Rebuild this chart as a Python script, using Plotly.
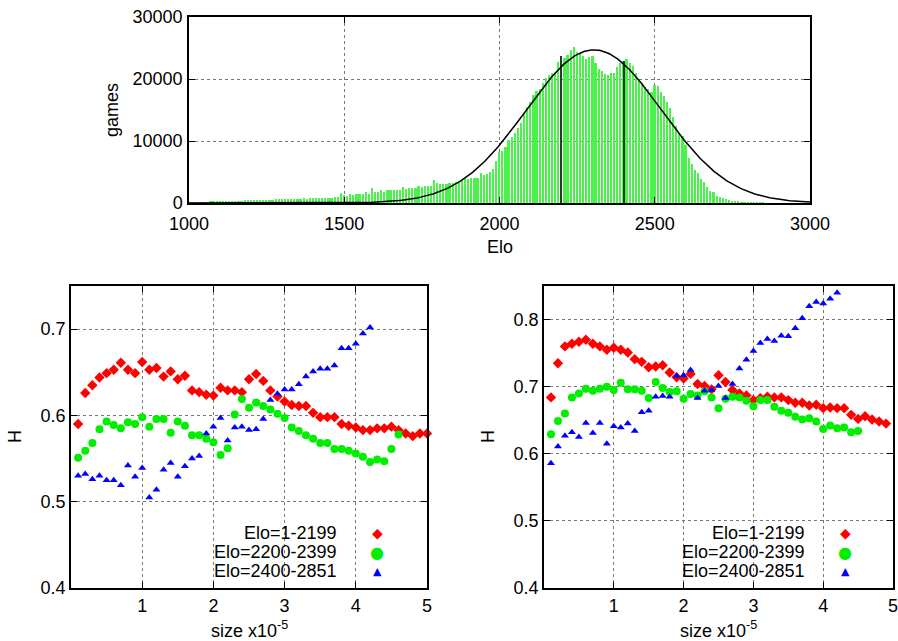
import numpy as np
import plotly.graph_objects as go

# ---------------- data ----------------
# histogram of games per Elo bin (bin width 10, starting at 1000)
elo_first_bin = 1000
elo_bin_width = 10
games = [
    100, 110, 130, 120, 140, 140, 160, 170, 200, 210,
    230, 260, 270, 280, 290, 280, 320, 330, 560, 430,
    480, 540, 490, 530, 500, 540, 490, 500, 650, 570,
    600, 610, 700, 600, 720, 700, 710, 860, 700, 870,
    800, 860, 880, 870, 880, 870, 880, 920, 970, 1610,
    1290, 1130, 1500, 1240, 1450, 1450, 1450, 1720, 1450, 2470,
    1770, 1770, 2100, 1830, 2150, 2150, 2150, 2150, 2150, 2580,
    2310, 2420, 2420, 2470, 2690, 2580, 2740, 2690, 2740, 3650,
    3170, 3010, 3120, 3120, 3230, 3230, 3390, 3550, 3710, 3980,
    3870, 4090, 4090, 4090, 4840, 4570, 4730, 5050, 5480, 6770,
    8200, 8390, 9090, 10160, 10700, 11340, 12040, 12850, 14350, 15540,
    16240, 17420, 18120, 18330, 19400, 20100, 20640, 20910, 21180, 22790,
    23760, 23330, 23870, 24680, 25100, 24410,
    24250, 23710, 23220, 23490, 23760, 22530, 21560, 21340, 20810, 20700,
    20910, 21020, 21880, 22630, 22900, 23170, 22630, 22100, 20900, 19840,
    19300, 18760, 18330, 17960,
    19000, 18900, 17900, 17200, 16300, 15300, 13900, 12500, 11300, 10800,
    9300, 7200, 6300, 5300, 4800, 3800, 3400, 2600, 1900, 1700,
    1150, 950, 750, 600, 480, 330, 270, 220, 160, 120,
    90, 70, 50, 40, 30, 20,
]
group_bounds = [2200, 2400]          # Elo group boundaries (dark impulses)
fit_mu, fit_sigma, fit_amp = 2304, 218, 24700   # fitted normal curve

# H vs size (size in units of 1e5), step 0.1
size_step = 0.1
left_red = [0.590, 0.626, 0.635, 0.644, 0.649, 0.653, 0.661, 0.653, 0.649, 0.662,
            0.653, 0.655, 0.645, 0.651, 0.642, 0.646, 0.629, 0.627, 0.624, 0.623,
            0.632, 0.629, 0.629, 0.627, 0.642, 0.648, 0.640, 0.629, 0.622, 0.616,
            0.612, 0.611, 0.611, 0.603, 0.598, 0.598, 0.598, 0.590, 0.588, 0.586,
            0.583, 0.583, 0.585, 0.585, 0.587, 0.583, 0.579, 0.576, 0.579, 0.579]
left_green = [0.551, 0.559, 0.568, 0.584, 0.593, 0.589, 0.585, 0.592, 0.590, 0.598,
              0.587, 0.596, 0.596, 0.580, 0.593, 0.588, 0.577, 0.577, 0.573, 0.569,
              0.554, 0.562, 0.601, 0.619, 0.609, 0.615, 0.611, 0.607, 0.602, 0.597,
              0.586, 0.582, 0.577, 0.573, 0.568, 0.568, 0.561, 0.561, 0.559, 0.556,
              0.552, 0.546, 0.549, 0.547, 0.561, 0.578]
left_blue = [0.530, 0.532, 0.526, 0.530, 0.525, 0.525, 0.519, 0.542, 0.529, 0.539,
             0.505, 0.514, 0.537, 0.545, 0.529, 0.541, 0.550, 0.553, 0.579, 0.587,
             0.597, 0.571, 0.586, 0.587, 0.583, 0.584, 0.596, 0.618, 0.625, 0.630,
             0.630, 0.636, 0.645, 0.651, 0.654, 0.654, 0.658, 0.678, 0.678, 0.683,
             0.695, 0.702]
right_red = [0.684, 0.735, 0.760, 0.764, 0.767, 0.770, 0.764, 0.760, 0.755, 0.758,
             0.755, 0.751, 0.741, 0.737, 0.729, 0.730, 0.732, 0.721, 0.714, 0.712,
             0.719, 0.704, 0.701, 0.696, 0.717, 0.707, 0.695, 0.690, 0.687, 0.680,
             0.683, 0.685, 0.684, 0.684, 0.680, 0.676, 0.676, 0.672, 0.673, 0.668,
             0.669, 0.668, 0.668, 0.658, 0.652, 0.656, 0.651, 0.648, 0.645]
right_green = [0.629, 0.649, 0.660, 0.684, 0.690, 0.697, 0.694, 0.697, 0.700, 0.695,
               0.706, 0.696, 0.696, 0.694, 0.683, 0.707, 0.698, 0.692, 0.693, 0.682,
               0.689, 0.687, 0.693, 0.684, 0.668, 0.682, 0.685, 0.684, 0.679, 0.671,
               0.680, 0.680, 0.670, 0.664, 0.661, 0.655, 0.651, 0.653, 0.648, 0.637,
               0.642, 0.638, 0.639, 0.632, 0.634]
right_blue = [0.586, 0.611, 0.627, 0.632, 0.625, 0.646, 0.631, 0.646, 0.615, 0.641,
              0.639, 0.645, 0.634, 0.662, 0.664, 0.685, 0.686, 0.685, 0.716, 0.717,
              0.725, 0.683, 0.694, 0.695, 0.701, 0.683, 0.704, 0.727, 0.740, 0.753,
              0.765, 0.771, 0.768, 0.776, 0.775, 0.787, 0.802, 0.820, 0.826, 0.824,
              0.831, 0.840]
legend_labels = ["Elo=1-2199", "Elo=2200-2399", "Elo=2400-2851"]
top_xticks = [1000, 1500, 2000, 2500, 3000]
top_yticks = [0, 10000, 20000, 30000]
bottom_xticks = [1, 2, 3, 4, 5]
left_yticks = [0.4, 0.5, 0.6, 0.7]
right_yticks = [0.4, 0.5, 0.6, 0.7, 0.8]

# ---------------- build ----------------
W, H = 898, 641
FONT = "Liberation Sans, Arial, Helvetica, sans-serif"
FS = 18

def fx(p):
    return p / W

def fy(p):
    return 1 - p / H

elo_bins = [elo_first_bin + elo_bin_width * i for i in range(len(games))]
bound_heights = [games[elo_bins.index(b)] for b in group_bounds]
curve_x = np.linspace(1000, 3000, 401)
curve_y = fit_amp * np.exp(-((curve_x - fit_mu) ** 2) / (2 * fit_sigma ** 2))

def sizes(n):
    return [round(size_step * (i + 1), 1) for i in range(n)]

RED, GREEN, BLUE = "#ff0000", "#00ee00", "#0000ff"

fig = go.Figure()
fig.add_trace(go.Bar(x=elo_bins, y=games, width=5.5, marker=dict(color="#4cf24c", line=dict(width=0)),
                     xaxis="x", yaxis="y"))
fig.add_trace(go.Bar(x=group_bounds, y=bound_heights, width=4, marker=dict(color="#2a3a2a", line=dict(width=0)),
                     xaxis="x", yaxis="y"))
fig.add_trace(go.Scatter(x=curve_x, y=curve_y, mode="lines", line=dict(color="black", width=1.5),
                         xaxis="x", yaxis="y"))

def add_scatter(vals, color, symbol, size, xa, ya):
    fig.add_trace(go.Scatter(x=sizes(len(vals)), y=vals, mode="markers",
                             marker=dict(color=color, symbol=symbol, size=size, line=dict(width=0)),
                             xaxis=xa, yaxis=ya, cliponaxis=False))

add_scatter(left_red, RED, "diamond", 8, "x2", "y2")
add_scatter(left_green, GREEN, "circle", 8, "x2", "y2")
add_scatter(left_blue, BLUE, "triangle-up", 7, "x2", "y2")
add_scatter(right_red, RED, "diamond", 8, "x3", "y3")
add_scatter(right_green, GREEN, "circle", 8, "x3", "y3")
add_scatter(right_blue, BLUE, "triangle-up", 7, "x3", "y3")

axis_common = dict(showline=True, linecolor="black", linewidth=1.5, mirror="ticks",
                   ticks="inside", ticklen=6, tickcolor="black", tickwidth=1,
                   showgrid=True, gridcolor="#777777", griddash="dot", gridwidth=1,
                   zeroline=False, automargin=False, ticklabeloverflow="allow",
                   tickfont=dict(family=FONT, size=FS, color="black"))

fig.update_layout(
    width=W, height=H, margin=dict(l=0, r=0, t=0, b=0, autoexpand=False),
    paper_bgcolor="white", plot_bgcolor="white", showlegend=False,
    barmode="overlay", bargap=0,
    font=dict(family=FONT, size=FS, color="black"),
    xaxis=dict(domain=[fx(189), fx(810)], range=[1000, 3000], tickvals=top_xticks,
               anchor="y", ticklabelstandoff=4, **axis_common),
    yaxis=dict(domain=[fy(203), fy(17)], range=[0, 30000], tickvals=top_yticks,
               tickformat="d", anchor="x", ticklabelstandoff=1, **axis_common),
    xaxis2=dict(domain=[fx(71), fx(427)], range=[0, 5], tickvals=bottom_xticks,
                anchor="y2", ticklabelstandoff=1, **axis_common),
    yaxis2=dict(domain=[fy(588), fy(286)], range=[0.4, 0.75], tickvals=left_yticks,
                tickformat=".1f", anchor="x2", **axis_common),
    xaxis3=dict(domain=[fx(544), fx(893)], range=[0, 5], tickvals=bottom_xticks,
                anchor="y3", ticklabelstandoff=1, **axis_common),
    yaxis3=dict(domain=[fy(588), fy(286)], range=[0.4, 0.85], tickvals=right_yticks,
                tickformat=".1f", anchor="x3", **axis_common),
)

# opaque key boxes (hide grid behind the key)
for x0, x1 in [(200, 426), (672, 892)]:
    fig.add_shape(type="rect", xref="paper", yref="paper",
                  x0=fx(x0), x1=fx(x1), y0=fy(587), y1=fy(523),
                  fillcolor="white", line=dict(width=0), layer="between")

ann = []
def text(x, y, s, angle=0, xanchor="center", size=FS, color="black", family=FONT):
    ann.append(dict(x=fx(x), y=fy(y), xref="paper", yref="paper", text=s, showarrow=False,
                    textangle=angle, xanchor=xanchor, yanchor="middle",
                    font=dict(family=family, size=size, color=color)))

text(112, 110, "games", angle=-90)
text(499.5, 247, "Elo")
text(15, 437, "H", angle=-90)
text(488, 437, "H", angle=-90)
text(249, 629, "size x10<sup>-5</sup>")
text(718.5, 629, "size x10<sup>-5</sup>")

symbols = [("\u25c6", RED, 14), ("\u25cf", GREEN, 16), ("\u25b2", BLUE, 11)]
rows = [533, 552, 571]
for (tx, sx) in [(339, 377), (807, 845)]:
    for lab, (sym, col, ssz), ry in zip(legend_labels, symbols, rows):
        text(tx, ry, lab, xanchor="right")
        text(sx, ry, sym, size=ssz, color=col, family="DejaVu Sans")

fig.update_layout(annotations=ann)
fig.write_html("out.html", config={"displayModeBar": False},
               post_script="document.body.style.margin='0';document.body.style.overflow='hidden';")
